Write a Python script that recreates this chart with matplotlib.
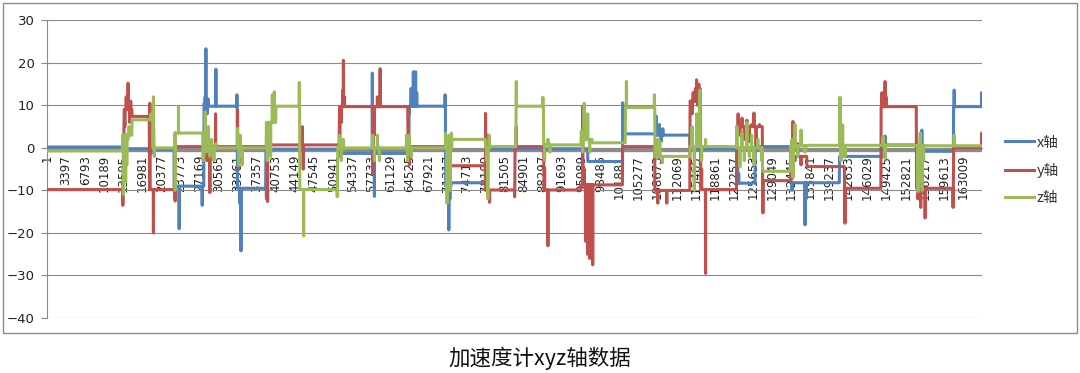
import numpy as np
import matplotlib.pyplot as plt
from matplotlib.patches import Rectangle

# values: flat stretches (start, end, level) and short spikes (index, peak)
n_samples = 166400

x_levels = [
    (1, 13400, 0.2), (13450, 18150, -0.2), (18200, 18900, -1.2), (18950, 22600, -0.3),
    (22650, 27900, -9.0), (27950, 28400, 10.5), (28450, 33850, 9.8), (33900, 38950, -9.5),
    (39000, 52000, -0.3), (52050, 64400, -1.3), (64450, 70900, 9.8), (70950, 71900, -9.0),
    (71950, 78100, -8.2), (78150, 96200, -0.2), (96250, 102400, -3.2), (102450, 108150, 3.3),
    (108200, 114400, 3.0), (114450, 122900, -0.2), (122950, 126000, -8.3), (126050, 132300, 0.3),
    (132350, 141000, -8.2), (141050, 148900, -2.0), (148950, 154700, 0.7), (154750, 161300, -0.8),
    (161350, 166400, 9.7),
]
x_spikes = [
    (13600, 1.0), (22800, -12.0), (23520, -19.0), (27620, -13.5), (28150, 12.0), (28280, 23.3),
    (28500, 8.0), (28700, 11.5), (30060, 18.5), (33800, 12.5), (34300, -13.0), (34520, -24.2),
    (39050, -12.0), (57900, 17.6), (58000, 5.0), (58270, -11.4), (64500, 8.0), (64800, 14.0),
    (65000, 11.0), (65200, 17.9), (65400, 12.0), (65600, 17.9), (65800, 13.0), (70850, 12.5),
    (71300, -13.0), (71510, -19.3), (71700, -12.0), (78230, -10.0), (78450, 3.0), (83520, 4.7),
    (102460, 10.6), (102650, 6.0), (108400, 7.5), (109000, 5.5), (109300, 1.5), (109600, 4.5),
    (123100, -6.0), (126200, 1.2), (132600, -10.0), (134900, -18.1), (135100, -12.0),
    (149150, 2.8), (155690, 4.2), (161450, 13.6), (166350, 13.0),
]

y_levels = [
    (1, 13400, -9.8), (13750, 15100, 9.0), (15150, 18200, 7.4), (18250, 22650, -9.8),
    (22700, 39000, 0.3), (39050, 52000, 0.7), (52050, 64200, 9.7), (64250, 71400, 0.3),
    (71450, 78000, -4.2), (78050, 83250, -9.9), (83300, 88400, 0.3), (88450, 95000, -9.9),
    (95050, 102400, -8.7), (102450, 108150, 0.3), (108200, 114400, -10.0), (114450, 116300, 11.0),
    (116350, 122700, -9.8), (122750, 127300, 5.0), (127350, 132400, -7.7), (132450, 135200, -2.0),
    (135250, 141900, -4.4), (141950, 148400, -9.5), (148450, 154700, 9.7), (154750, 161300, -9.5),
    (161350, 166400, 0.0),
]
y_spikes = [
    (13500, -13.5), (13850, 5.0), (14100, 12.0), (14430, 15.2), (14700, 6.0), (14900, 11.0),
    (18300, 10.5), (18940, -20.0), (22810, -12.5), (28500, -3.0), (28990, -10.5), (30000, 8.0),
    (33910, 8.9), (34100, -5.0), (39260, -12.6), (45440, 5.0), (45600, -5.0), (52100, -2.0),
    (52400, 6.0), (52600, 13.5), (52750, 20.6), (52950, 12.0), (57970, -6.0), (58270, 3.0),
    (58800, 12.0), (59290, 18.6), (64500, -4.0), (71600, -2.0), (78050, 8.1), (78760, -12.8),
    (83220, -11.5), (83520, 5.0), (88560, -5.0), (89150, -23.0), (95340, 9.7), (95600, -5.0),
    (95900, -22.0), (96230, -25.0), (96400, -18.0), (96580, -26.0), (96800, -20.0), (97120, -27.5),
    (108700, -13.0), (110300, -13.0), (114800, 8.0), (115000, 13.0), (115200, 12.0), (115400, 14.0),
    (115600, 16.0), (115800, 10.0), (116000, 15.0), (116200, 14.0), (116500, -5.0), (117200, -29.5),
    (123000, 8.0), (123300, 3.0), (123700, 7.0), (124100, 2.0), (124560, 6.5), (125000, 1.5),
    (125400, 5.5), (125810, 8.2), (126200, 1.0), (126800, 5.5), (127410, -15.3), (132760, 6.2),
    (133100, -3.0), (133600, 1.0), (134200, -4.0), (142020, -17.7), (148600, 13.0), (148900, 11.0),
    (149150, 15.6), (149330, 12.0), (155000, -12.0), (155500, -14.0), (156280, -16.5),
    (161250, -14.0), (166350, 3.5),
]

z_levels = [
    (1, 13400, -0.7), (13450, 15100, 3.0), (15150, 18900, 6.6), (18950, 22700, 0.0),
    (22750, 27700, 3.5), (27750, 39000, 0.0), (39050, 40700, 6.0), (40750, 44950, 9.8),
    (45000, 51700, -9.8), (51750, 70800, 0.0), (70850, 72000, 0.0), (72050, 78000, 2.0),
    (78050, 78750, 0.0), (78800, 83450, 0.3), (83500, 88350, 9.8), (88400, 95000, 0.7),
    (95050, 97000, 2.0), (97050, 102900, 1.2), (102950, 108150, 9.5), (108200, 114400, -2.0),
    (114450, 122700, 0.3), (122750, 127300, 0.0), (127350, 132300, -5.5), (132350, 135300, 0.5),
    (135350, 154700, 0.6), (154750, 166400, 0.5),
]
z_spikes = [
    (13500, 3.0), (13600, -11.0), (13800, 2.0), (14000, -8.0), (14200, -4.0), (14400, 2.0),
    (14610, 5.0), (18480, 8.0), (18940, 12.0), (19100, -2.0), (22810, -10.0), (23400, 9.7),
    (27800, -3.0), (28160, 8.5), (28400, -1.0), (28700, 5.0), (28990, -2.0), (29300, 2.0),
    (29700, -3.0), (30100, 1.0), (33910, 4.6), (34100, -4.2), (34400, 3.0), (34750, -4.0),
    (39200, -3.0), (39560, 6.0), (39800, -2.0), (40100, 12.5), (40450, 13.2), (44900, 15.4),
    (45670, -20.7), (51650, -11.5), (52030, 3.0), (52390, -3.0), (52750, 2.0), (57970, 3.0),
    (58270, -3.0), (58800, 3.0), (59160, -3.0), (63970, 3.0), (64200, -3.0), (64500, 3.0),
    (64860, -2.0), (70920, 3.5), (71200, -13.0), (71510, 3.0), (71800, -10.0), (71990, 3.5),
    (78230, -3.0), (78460, -12.0), (78700, 3.0), (83520, 15.6), (88250, 11.9), (88560, -3.0),
    (89150, 2.0), (89500, -1.0), (95100, 4.0), (95340, -1.0), (95600, 10.5), (96000, 2.0),
    (96230, 8.0), (96580, -1.0), (103120, 15.6), (108100, 12.5), (108700, 2.0), (109060, 1.5),
    (109500, -3.5), (114800, 5.0), (115200, -10.0), (115600, 8.0), (116190, 13.6), (116500, -3.0),
    (117200, 2.0), (122780, 5.0), (123310, -4.5), (123670, 3.5), (124100, -3.0), (124560, 6.0),
    (125000, -2.0), (125400, 3.0), (125810, -4.0), (126500, 2.0), (127230, -3.0), (132580, 2.0),
    (132760, -7.0), (133110, 5.5), (133600, -2.0), (134200, 4.2), (134900, -1.0), (141130, 11.9),
    (141300, -3.0), (141600, 5.4), (142020, -2.0), (148800, 2.7), (149150, -2.5), (155000, -10.3),
    (155200, -6.0), (155400, 3.5), (155600, -8.0), (155750, -10.0), (156000, -3.0), (161450, 3.0),
]

base_level = -0.5

tick_pos = [1 + 3396 * k for k in range(49)]
tick_labels = [str(p) for p in tick_pos]


def build(levels, spikes):
    pts = []
    for s, e, v in levels:
        pts += [(s, v), (e, v)]
    for i, peak in spikes:
        lv = [v for s, e, v in levels if s <= i][-1]
        pts += [(i - 20, lv), (i, peak), (i + 20, lv)]
    pts.sort()
    return np.array(pts).T


series = [
    ("x轴", x_levels, x_spikes, "#4F81BD"),
    ("y轴", y_levels, y_spikes, "#C0504D"),
    ("z轴", z_levels, z_spikes, "#9BBB59"),
]

W, H = 1080, 373
fig = plt.figure(figsize=(W / 100, H / 100), dpi=100)
ax = fig.add_axes([47 / W, 1 - 318 / H, (982 - 47) / W, (318 - 20.3) / H])

grey = "#8a8a8a"
ax.plot([1, n_samples], [base_level, base_level], color="#8c8c8c", lw=2.4, zorder=2)
for name, levels, spikes, col in series:
    px, py = build(levels, spikes)
    ax.plot(px, py, color=col, lw=2.2, label=name, zorder=3)

ax.set_xlim(1, n_samples)
ax.set_ylim(-40, 30)
ax.set_yticks(range(-40, 31, 10))
ax.grid(axis="y", color=grey, lw=0.8)
ax.set_axisbelow(True)

for s in ("top", "right"):
    ax.spines[s].set_visible(False)
ax.spines["left"].set_color(grey)
ax.spines["bottom"].set_color(grey)
ax.spines["bottom"].set_position(("data", 0))

ax.set_xticks(tick_pos)
ax.set_xticklabels(tick_labels)
ax.tick_params(axis="x", length=0, pad=5, labelrotation=90, labelsize=8.5, labelcolor="#222222")
ax.tick_params(axis="y", length=4, color=grey, pad=5, labelsize=9.5, labelcolor="#222222")

leg = fig.legend(loc="upper left", bbox_to_anchor=(1005 / W, 1 - 135.5 / H), frameon=False,
                 borderpad=0, borderaxespad=0, handlelength=2.0, handletextpad=0.15,
                 labelspacing=0.92, prop={"family": ["Noto Sans CJK SC", "DejaVu Sans"], "size": 10.5})
for t in leg.get_texts():
    t.set_color("#333333")

fig.patches.append(Rectangle((3 / W, 1 - 333 / H), 1074 / W, 330 / H, transform=fig.transFigure,
                             fill=False, edgecolor="#8c8c8c", lw=1))

fig.text(540 / W, 1 - 358 / H, "加速度计xyz轴数据", ha="center", va="center", fontsize=15.5,
         family=["Noto Sans CJK SC", "DejaVu Sans"], color="#111111")

fig.savefig("out.png", dpi=100)
